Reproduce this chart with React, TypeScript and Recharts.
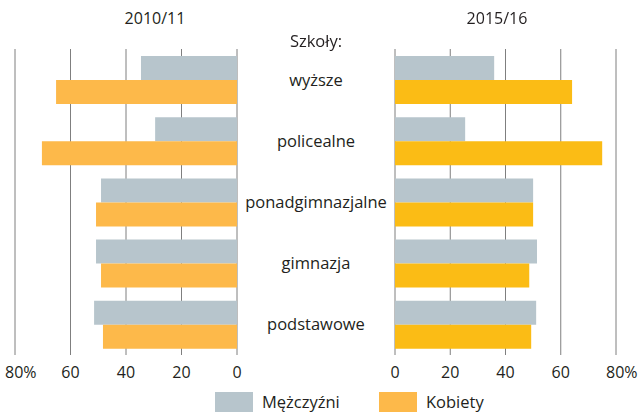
import React from 'react';
import { BarChart, Bar, XAxis, YAxis, CartesianGrid } from 'recharts';

const categories = ['wyższe', 'policealne', 'ponadgimnazjalne', 'gimnazja', 'podstawowe'];
const men2010 = [34.6, 29.5, 49, 50.8, 51.5];
const women2010 = [65.2, 70.3, 50.8, 49, 48.3];
const men2015 = [35.9, 25.4, 50, 51.4, 51.1];
const women2015 = [64.1, 75, 50, 48.6, 49.3];
const ticks = [0, 20, 40, 60, 80];

const GRAY = '#b7c5cc';
const ORANGE = '#fdb94a';
const YELLOW = '#fbbc15';
const FONT = '"Open Sans", sans-serif';
const TEXT = '#231f20';

const left = categories.map((c, i) => ({ name: c, m: men2010[i], k: women2010[i] }));
const right = categories.map((c, i) => ({ name: c, m: men2015[i], k: women2015[i] }));

const XTick = (props: any) => {
  const { x, y, payload } = props;
  const v = payload.value;
  return (
    <text x={v === 80 ? x - 10 : x} y={y + 15} textAnchor={v === 80 ? 'start' : 'middle'} fontSize={16} fill={TEXT} fontFamily={FONT}>
      {v === 80 ? '80%' : v}
    </text>
  );
};

// category names sit in the gap between the two panels
const CatTick = (props: any) => {
  const { y, payload } = props;
  return (
    <text x={316} y={y + 6} textAnchor="middle" fontSize={16.5} fill={TEXT} fontFamily={FONT}>
      {payload.value}
    </text>
  );
};

const H = 413;
const M = { top: 49, bottom: 28 };

export default function App() {
  return (
    <div style={{ position: 'fixed', left: 0, top: 0, width: 640, height: H, background: '#fff', fontFamily: FONT, color: TEXT }}>
      <div style={{ position: 'absolute', left: 0, top: 0 }}>
        <BarChart width={395} height={H} data={left} layout="vertical" barSize={24} barGap={0}
          margin={{ top: M.top, bottom: M.bottom, left: 15, right: 0 }}>
          <CartesianGrid horizontal={false} stroke="#7f7f7f" strokeWidth={1} />
          <XAxis type="number" domain={[0, 80]} ticks={ticks} reversed axisLine={false} tickLine={false} tick={<XTick />} height={30} interval={0} />
          <YAxis type="category" dataKey="name" orientation="right" width={158} axisLine={false} tickLine={false} tick={<CatTick />} />
          <Bar dataKey="m" fill={GRAY} isAnimationActive={false} />
          <Bar dataKey="k" fill={ORANGE} isAnimationActive={false} />
        </BarChart>
      </div>
      <div style={{ position: 'absolute', left: 375, top: 0 }}>
        <BarChart width={265} height={H} data={right} layout="vertical" barSize={24} barGap={0}
          margin={{ top: M.top, bottom: M.bottom, left: 20, right: 24 }}>
          <CartesianGrid horizontal={false} stroke="#7f7f7f" strokeWidth={1} />
          <XAxis type="number" domain={[0, 80]} ticks={ticks} axisLine={false} tickLine={false} tick={<XTick />} height={30} interval={0} />
          <YAxis type="category" dataKey="name" hide />
          <Bar dataKey="m" fill={GRAY} isAnimationActive={false} />
          <Bar dataKey="k" fill={YELLOW} isAnimationActive={false} />
        </BarChart>
      </div>
      <div style={{ position: 'absolute', left: 0, width: 310, top: 7, textAlign: 'center', fontSize: 16 }}>2010/11</div>
      <div style={{ position: 'absolute', left: 342, width: 310, top: 7, textAlign: 'center', fontSize: 16 }}>2015/16</div>
      <div style={{ position: 'absolute', left: 237, width: 158, top: 29, textAlign: 'center', fontSize: 16.5 }}>Szkoły:</div>
      <div style={{ position: 'absolute', left: 215, top: 392, height: 20, display: 'flex', alignItems: 'center', fontSize: 16.5, lineHeight: '18px' }}>
        <span style={{ width: 38, height: 20, background: GRAY, marginRight: 9 }} />
        <span style={{ width: 117 }}>Mężczyźni</span>
        <span style={{ width: 38, height: 20, background: ORANGE, marginRight: 9 }} />
        <span>Kobiety</span>
      </div>
    </div>
  );
}
